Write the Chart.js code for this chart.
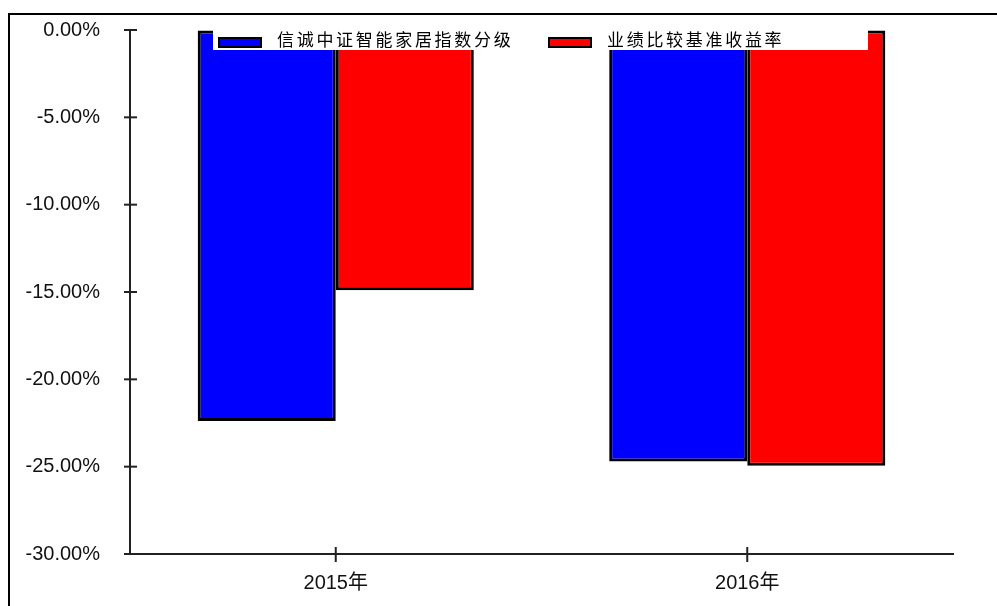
<!DOCTYPE html>
<html>
<head>
<meta charset="utf-8">
<script src="https://cdn.jsdelivr.net/npm/chart.js@4"></script>
<style>
html, body { margin: 0; padding: 0; background: #fff; overflow: hidden; }
#frame { position: absolute; left: 8px; top: 13px; width: 1000px; height: 600px; border-left: 2px solid #000; border-top: 2px solid #000; }
#wrap { position: absolute; left: 0; top: 0; width: 987px; height: 591px; }
</style>
</head>
<body>
<div id="frame"><div id="wrap"><canvas id="myChart"></canvas></div></div>
<script>
const categories = ['2015年', '2016年'];
const seriesNames = ['信诚中证智能家居指数分级', '业绩比较基准收益率'];
const fundValues = [-22.38, -24.70];   // blue
const benchValues = [-14.90, -24.95];  // red
const yTicks = [0, -5, -10, -15, -20, -25, -30];

// ticks that cross the axis line
const crossTicks = {
    id: 'crossTicks',
    afterDraw(chart) {
        const ctx = chart.ctx, x = chart.scales.x, y = chart.scales.y;
        ctx.save();
        ctx.strokeStyle = '#222';
        ctx.lineWidth = 2;
        y.ticks.forEach((t, i) => {
            const py = y.getPixelForTick(i);
            ctx.beginPath(); ctx.moveTo(y.right - 6, py); ctx.lineTo(y.right + 7, py); ctx.stroke();
        });
        x.ticks.forEach((t, i) => {
            const px = x.getPixelForTick(i);
            ctx.beginPath(); ctx.moveTo(px, x.top - 7); ctx.lineTo(px, x.top + 8); ctx.stroke();
        });
        ctx.restore();
    }
};

// legend box drawn on top of the bars, white background
const boxLegend = {
    id: 'boxLegend',
    afterDatasetsDraw(chart) {
        const ctx = chart.ctx, a = chart.chartArea;
        const left = a.left + 83, right = a.right - 85, top = a.top - 3, bottom = a.top + 20;
        ctx.save();
        ctx.fillStyle = '#fff';
        ctx.fillRect(left, top, right - left, bottom - top);
        const starts = [left + 5, left + 335];
        chart.data.datasets.forEach((ds, i) => {
            const sx = starts[i], sy = a.top + 7;
            ctx.fillStyle = ds.backgroundColor;
            ctx.fillRect(sx, sy, 44, 11);
            ctx.lineWidth = 2;
            ctx.strokeStyle = '#000';
            ctx.strokeRect(sx + 1, sy + 1, 42, 9);
            ctx.fillStyle = '#000';
            ctx.font = '17px "Noto Sans CJK SC"';
            ctx.letterSpacing = '2.7px';
            ctx.textBaseline = 'middle';
            ctx.fillText(ds.label, sx + 59, a.top + 10);
        });
        ctx.restore();
    }
};

const data = {
    labels: categories,
    datasets: [{
        label: seriesNames[0],
        data: fundValues,
        backgroundColor: '#0000ff',
        borderColor: '#000',
        borderWidth: 3,
        borderSkipped: false
    }, {
        label: seriesNames[1],
        data: benchValues,
        backgroundColor: '#ff0000',
        borderColor: '#000',
        borderWidth: 3,
        borderSkipped: false
    }]
};

const config = {
    type: 'bar',
    data,
    options: {
        responsive: true,
        maintainAspectRatio: false,
        animation: false,
        categoryPercentage: 0.671,
        barPercentage: 1,
        layout: { padding: { top: 15, right: 44, left: 0, bottom: 0 } },
        plugins: {
            legend: { display: false },
            tooltip: { enabled: false }
        },
        scales: {
            x: {
                grid: { drawOnChartArea: false, drawTicks: false },
                border: { color: '#222', width: 2 },
                ticks: { padding: 17, color: '#111', font: { family: '"Liberation Sans", "Noto Sans CJK SC"', size: 20 } },
                afterFit(scale) { scale.height = 52; scale.paddingLeft = 0; scale.paddingRight = 0; }
            },
            y: {
                min: -30,
                max: 0,
                afterBuildTicks(scale) { scale.ticks = yTicks.map(v => ({ value: v })); },
                grid: { drawOnChartArea: false, drawTicks: false },
                border: { color: '#222', width: 2 },
                ticks: {
                    padding: 30,
                    color: '#111',
                    font: { family: '"Liberation Sans"', size: 20 },
                    callback: (v) => v.toFixed(2) + '%'
                },
                afterFit(scale) { scale.width = 120; scale.paddingTop = 0; scale.paddingBottom = 0; }
            }
        }
    },
    plugins: [boxLegend, crossTicks]
};

const myChart = new Chart(document.getElementById('myChart'), config);
</script>
</body>
</html>
